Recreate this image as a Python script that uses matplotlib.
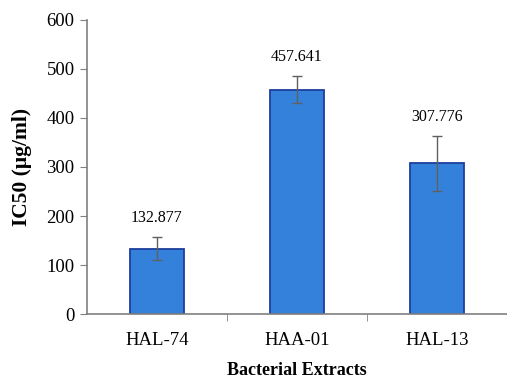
import matplotlib.pyplot as plt
import numpy as np

categories = ["HAL-74", "HAA-01", "HAL-13"]
ic50 = [132.877, 457.641, 307.776]
errors = [23.5, 28.0, 56.0]
yticks = [0, 100, 200, 300, 400, 500, 600]

plt.rcParams['font.family'] = ['Liberation Serif', 'DejaVu Serif']

fig = plt.figure(figsize=(5.07, 3.83), dpi=100)
ax = fig.add_axes([0.1716, 0.180, 0.8284, 0.768])

x = np.arange(len(categories))
ax.bar(x, ic50, width=0.39, color='#3481db', edgecolor='#1c3f9c', linewidth=1.3,
       yerr=errors, capsize=3.5, error_kw=dict(ecolor='#606060', elinewidth=1, capthick=1),
       zorder=2)

for xi, v, e in zip(x, ic50, errors):
    ax.annotate(f"{v:.3f}", (xi, v + e), xytext=(0, 8), textcoords='offset points',
                ha='center', va='bottom', fontsize=11.5)

ax.set_xlim(-0.5, len(categories) - 0.5)
ax.set_ylim(0, 600)
ax.set_yticks(yticks)
ax.set_xticks(x)
ax.set_xticklabels(categories, fontsize=13.5)
ax.tick_params(axis='x', length=0, pad=13)
ax.set_xticks(np.arange(0.5, len(categories) - 0.5, 1), minor=True)
ax.tick_params(axis='x', which='minor', length=5, direction='out', color='#808080')
ax.tick_params(axis='y', labelsize=13.5, length=5, color='#808080', pad=4)

for side in ['top', 'right']:
    ax.spines[side].set_visible(False)
for side in ['left', 'bottom']:
    ax.spines[side].set_color('#808080')
    ax.spines[side].set_linewidth(1.2)

ax.set_ylabel("IC50 (μg/ml)", fontsize=15.5, fontweight='bold', labelpad=10)
ax.set_xlabel("Bacterial Extracts", fontsize=13, fontweight='bold', labelpad=9)

fig.savefig("out.png", dpi=100)
